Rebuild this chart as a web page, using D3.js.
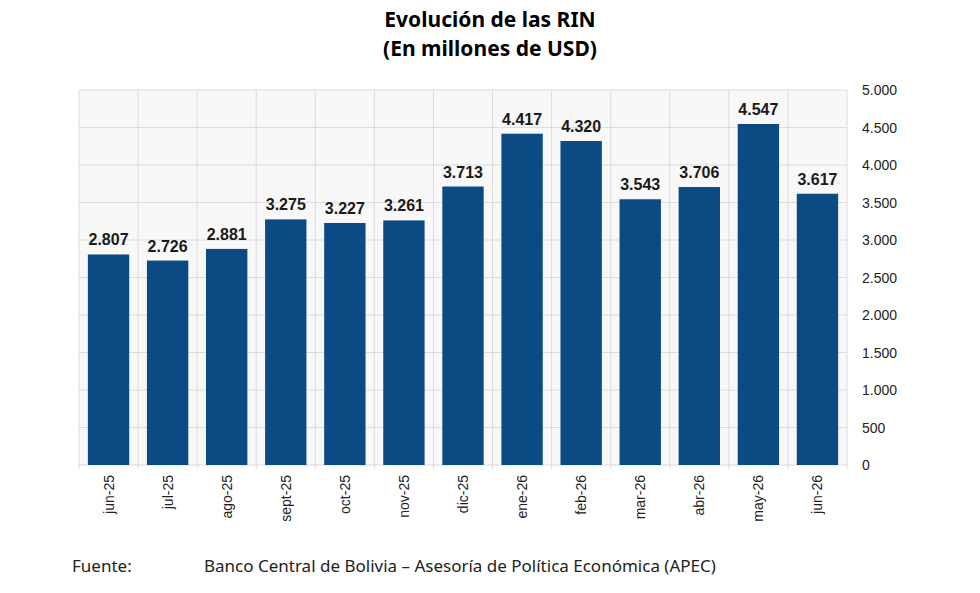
<!DOCTYPE html>
<html><head><meta charset="utf-8">
<script src="https://cdn.jsdelivr.net/npm/d3@7"></script>
<style>body{margin:0;background:#fff}</style>
</head><body>
<script>
// data
var months = ["jun-25","jul-25","ago-25","sept-25","oct-25","nov-25","dic-25","ene-26","feb-26","mar-26","abr-26","may-26","jun-26"];
var rin = [2807,2726,2881,3275,3227,3261,3713,4417,4320,3543,3706,4547,3617];
var yTicks = [0,500,1000,1500,2000,2500,3000,3500,4000,4500,5000];

var W = 980, H = 593;
var m = {left: 79, right: 847, top: 90, bottom: 465};
var fmt = function(v) { return d3.format(",")(v).replace(/,/g, "."); };

var svg = d3.select("body").append("svg").attr("width", W).attr("height", H)
  .style("font-family", "Liberation Sans, Arial, sans-serif");

var x = d3.scaleBand().domain(months).range([m.left, m.right]).paddingInner(0.3).paddingOuter(0.15);
var y = d3.scaleLinear().domain([0, 5000]).range([m.bottom, m.top]);

svg.append("rect").attr("x", m.left).attr("y", m.top)
  .attr("width", m.right - m.left).attr("height", m.bottom - m.top).attr("fill", "#f8f8f8");

// grid
svg.selectAll("line.h").data(yTicks).enter().append("line")
  .attr("x1", m.left).attr("x2", m.right)
  .attr("y1", function(d) { return y(d); }).attr("y2", function(d) { return y(d); })
  .attr("stroke", "#dcdcdc").attr("stroke-width", 1);
var step = (m.right - m.left) / months.length;
var seps = d3.range(months.length + 1);
svg.selectAll("line.v").data(seps).enter().append("line")
  .attr("x1", function(i) { return m.left + i * step; }).attr("x2", function(i) { return m.left + i * step; })
  .attr("y1", m.top).attr("y2", m.bottom + 4)
  .attr("stroke", "#dcdcdc").attr("stroke-width", 1);

// bars
svg.selectAll("rect.bar").data(rin).enter().append("rect")
  .attr("x", function(d, i) { return x(months[i]); })
  .attr("width", x.bandwidth())
  .attr("y", function(d) { return y(d); })
  .attr("height", function(d) { return y(0) - y(d); })
  .attr("fill", "#0b4a82");

svg.selectAll("text.val").data(rin).enter().append("text")
  .attr("x", function(d, i) { return x(months[i]) + x.bandwidth() / 2; })
  .attr("y", function(d) { return y(d) - 9; })
  .attr("text-anchor", "middle").attr("font-size", 16).attr("font-weight", "bold").attr("fill", "#1a1a1a")
  .text(fmt);

// y axis on right
svg.selectAll("text.yt").data(yTicks).enter().append("text")
  .attr("x", 862).attr("y", function(d) { return y(d) + 5; })
  .attr("font-size", 14).attr("fill", "#222").text(fmt);

// x labels rotated
svg.selectAll("text.xt").data(months).enter().append("text")
  .attr("transform", function(d) { return "translate(" + (x(d) + x.bandwidth() / 2 + 5) + "," + (m.bottom + 10) + ") rotate(-90)"; })
  .attr("text-anchor", "end").attr("font-size", 14).attr("fill", "#222").text(function(d) { return d; });

// title
svg.append("text").attr("x", 490).attr("y", 27).attr("text-anchor", "middle")
  .attr("font-size", 21).attr("font-weight", "bold").attr("font-family", "Noto Sans, sans-serif").text("Evolución de las RIN");
svg.append("text").attr("x", 490).attr("y", 56).attr("text-anchor", "middle")
  .attr("font-size", 21).attr("font-weight", "bold").attr("font-family", "Noto Sans, sans-serif").text("(En millones de USD)");

// source
svg.append("text").attr("x", 72).attr("y", 572).attr("font-size", 17).attr("font-family", "Noto Sans, sans-serif").attr("fill", "#222").text("Fuente:");
svg.append("text").attr("x", 204).attr("y", 572).attr("font-size", 17).attr("font-family", "Noto Sans, sans-serif").attr("fill", "#222")
  .text("Banco Central de Bolivia – Asesoría de Política Económica (APEC)");
</script>
</body></html>
